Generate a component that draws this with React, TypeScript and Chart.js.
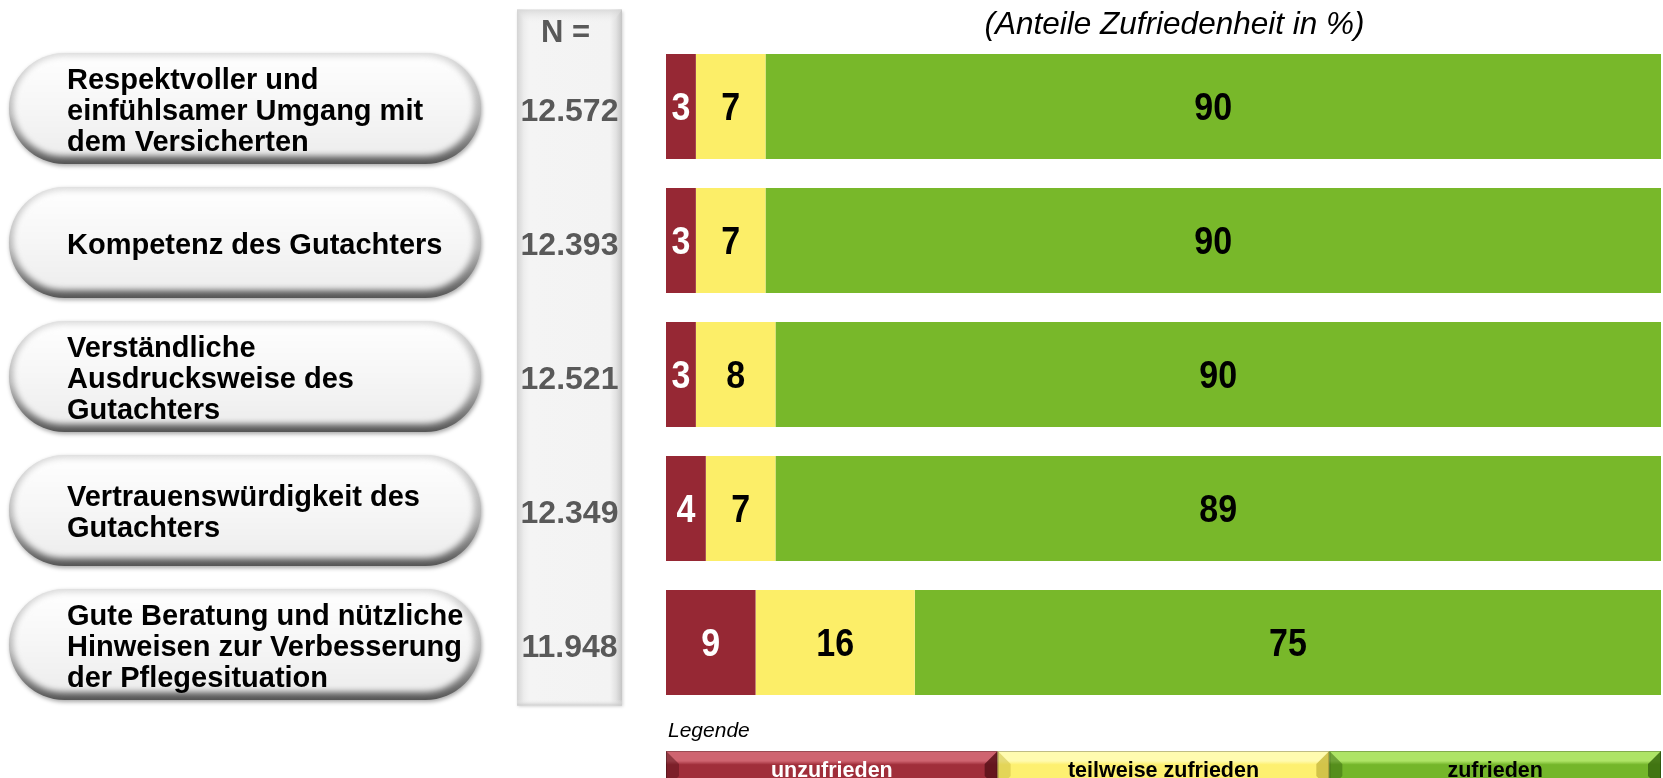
import React, { useEffect, useRef } from "react";
import { Chart, registerables } from "chart.js";

Chart.register(...registerables);

// ---------------- data ----------------
const categories: string[][] = [
  ["Respektvoller und", "einfühlsamer Umgang mit", "dem Versicherten"],
  ["Kompetenz des Gutachters"],
  ["Verständliche", "Ausdrucksweise des", "Gutachters"],
  ["Vertrauenswürdigkeit des", "Gutachters"],
  ["Gute Beratung und nützliche", "Hinweisen zur Verbesserung", "der Pflegesituation"],
];
const sampleSizes = ["12.572", "12.393", "12.521", "12.349", "11.948"];
const unzufrieden = [3, 3, 3, 4, 9];
const teilweiseZufrieden = [7, 7, 8, 7, 16];
const zufrieden = [90, 90, 90, 89, 75];
const seriesNames = ["unzufrieden", "teilweise zufrieden", "zufrieden"];
const nHeader = "N =";
const chartTitle = "(Anteile Zufriedenheit in %)";
const legendTitle = "Legende";
const xMin = 0;
const xMax = 100;

// ---------------- styles ----------------
const FONT = '"Liberation Sans", Arial, Helvetica, sans-serif';
const COLORS = ["#962834", "#FCEE68", "#78B82A"];
const LABEL_COLORS = ["#ffffff", "#000000", "#000000"];
const LEGEND_STYLES = [
  { hi: "#cf6470", main: "#a02e3a", lo: "#7c1f29", bevel: "#5e141c", text: "#ffffff" },
  { hi: "#fffbb0", main: "#fdf070", lo: "#e9db55", bevel: "#cdbf45", text: "#000000" },
  { hi: "#aee466", main: "#74b62a", lo: "#5c9a1c", bevel: "#3c6e10", text: "#000000" },
];

function pillPath(ctx: CanvasRenderingContext2D, x: number, y: number, w: number, h: number) {
  const r = h / 2;
  ctx.beginPath();
  ctx.moveTo(x + r, y);
  ctx.lineTo(x + w - r, y);
  ctx.arc(x + w - r, y + r, r, -Math.PI / 2, Math.PI / 2);
  ctx.lineTo(x + r, y + h);
  ctx.arc(x + r, y + r, r, Math.PI / 2, Math.PI * 1.5);
  ctx.closePath();
}

function drawPill(ctx: CanvasRenderingContext2D, x: number, y: number, w: number, h: number) {
  ctx.save();
  ctx.shadowColor = "rgba(0,0,0,0.35)";
  ctx.shadowBlur = 4;
  ctx.shadowOffsetX = 1;
  ctx.shadowOffsetY = 2;
  pillPath(ctx, x, y, w, h);
  const g = ctx.createLinearGradient(0, y, 0, y + h);
  g.addColorStop(0, "#dadada");
  g.addColorStop(0.55, "#b4b4b4");
  g.addColorStop(1, "#565656");
  ctx.fillStyle = g;
  ctx.fill();
  ctx.restore();

  ctx.save();
  pillPath(ctx, x, y, w, h);
  ctx.clip();
  ctx.filter = "blur(3px)";
  pillPath(ctx, x + 4, y + 3, w - 11, h - 11);
  const g2 = ctx.createLinearGradient(0, y, 0, y + h);
  g2.addColorStop(0, "#ffffff");
  g2.addColorStop(0.5, "#f6f6f6");
  g2.addColorStop(1, "#ececec");
  ctx.fillStyle = g2;
  ctx.fill();
  ctx.restore();
}

function drawNColumn(ctx: CanvasRenderingContext2D, x0: number, x1: number, y0: number, y1: number) {
  const w = x1 - x0;
  ctx.save();
  ctx.shadowColor = "rgba(0,0,0,0.18)";
  ctx.shadowBlur = 3;
  ctx.shadowOffsetX = 1;
  ctx.shadowOffsetY = 1;
  const g = ctx.createLinearGradient(x0, 0, x1, 0);
  g.addColorStop(0, "#d4d4d4");
  g.addColorStop(7 / w, "#ededed");
  g.addColorStop(12 / w, "#f4f4f4");
  g.addColorStop(1 - 12 / w, "#f3f3f3");
  g.addColorStop(1 - 6 / w, "#e2e2e2");
  g.addColorStop(1, "#c4c4c4");
  ctx.fillStyle = g;
  ctx.fillRect(x0, y0, w, y1 - y0);
  ctx.restore();
  ctx.save();
  const gt = ctx.createLinearGradient(0, y0, 0, y0 + 14);
  gt.addColorStop(0, "rgba(215,215,215,0.9)");
  gt.addColorStop(1, "rgba(243,243,243,0)");
  ctx.fillStyle = gt;
  ctx.beginPath();
  ctx.moveTo(x0, y0);
  ctx.lineTo(x1, y0);
  ctx.lineTo(x1 - 10, y0 + 14);
  ctx.lineTo(x0 + 10, y0 + 14);
  ctx.closePath();
  ctx.fill();
  const gb = ctx.createLinearGradient(0, y1 - 6, 0, y1);
  gb.addColorStop(0, "rgba(243,243,243,0)");
  gb.addColorStop(1, "rgba(200,200,200,0.9)");
  ctx.fillStyle = gb;
  ctx.fillRect(x0, y1 - 6, w, 6);
  ctx.restore();
}

function drawLegendBox(
  ctx: CanvasRenderingContext2D,
  x0: number,
  x1: number,
  y0: number,
  h: number,
  st: { hi: string; main: string; lo: string; bevel: string; text: string },
  label: string
) {
  const y1 = y0 + h;
  const bev = 13;
  ctx.save();
  const g = ctx.createLinearGradient(0, y0, 0, y1);
  g.addColorStop(0, st.hi);
  g.addColorStop(0.26, st.hi);
  g.addColorStop(0.36, st.main);
  g.addColorStop(0.75, st.main);
  g.addColorStop(1, st.lo);
  ctx.fillStyle = g;
  ctx.fillRect(x0, y0, x1 - x0, h);
  ctx.fillStyle = st.bevel;
  ctx.globalAlpha = 0.55;
  ctx.beginPath();
  ctx.moveTo(x0, y0);
  ctx.lineTo(x0 + bev, y0 + bev);
  ctx.lineTo(x0 + bev, y1 - bev);
  ctx.lineTo(x0, y1);
  ctx.closePath();
  ctx.fill();
  ctx.globalAlpha = 0.9;
  ctx.beginPath();
  ctx.moveTo(x1, y0);
  ctx.lineTo(x1 - bev, y0 + bev);
  ctx.lineTo(x1 - bev, y1 - bev);
  ctx.lineTo(x1, y1);
  ctx.closePath();
  ctx.fill();
  ctx.globalAlpha = 1;
  ctx.strokeStyle = "rgba(0,0,0,0.25)";
  ctx.lineWidth = 1;
  ctx.strokeRect(x0 + 0.5, y0 + 0.5, x1 - x0 - 1, h - 1);
  ctx.fillStyle = st.text;
  ctx.font = `bold 21.5px ${FONT}`;
  ctx.textAlign = "center";
  ctx.textBaseline = "alphabetic";
  ctx.fillText(label, (x0 + x1) / 2, y0 + 25.5);
  ctx.restore();
}

const decorPlugin = {
  id: "decor",
  beforeDraw(chart: any) {
    const ctx: CanvasRenderingContext2D = chart.ctx;
    const area = chart.chartArea;
    const yScale = chart.scales.y;
    const xScale = chart.scales.x;
    ctx.save();
    ctx.fillStyle = "#ffffff";
    ctx.fillRect(0, 0, chart.width, chart.height);

    // N column
    const nx0 = 517;
    const nx1 = 622;
    const ncx = (nx0 + nx1) / 2;
    drawNColumn(ctx, nx0, nx1, area.top - 30, area.bottom - 4);
    ctx.fillStyle = "#595959";
    ctx.textAlign = "center";
    ctx.textBaseline = "alphabetic";
    ctx.font = `bold 31px ${FONT}`;
    ctx.fillText(nHeader, ncx - 4, 42);
    ctx.font = `bold 32px ${FONT}`;
    sampleSizes.forEach((s, i) => {
      const cy = yScale.getPixelForValue(i);
      ctx.fillText(s, ncx, cy + 14.5);
    });

    // pills with category text
    categories.forEach((lines, i) => {
      const cy = yScale.getPixelForValue(i) + 3;
      const ph = 111;
      drawPill(ctx, 9, cy - ph / 2 - 1, 472, ph);
      ctx.fillStyle = "#000000";
      ctx.font = `bold 29px ${FONT}`;
      ctx.textAlign = "left";
      ctx.textBaseline = "alphabetic";
      const lh = 31;
      const first = cy - ((lines.length - 1) * lh) / 2 + 10;
      lines.forEach((ln, k) => {
        ctx.fillText(ln, 67, first + k * lh);
      });
    });

    // title
    ctx.fillStyle = "#000000";
    ctx.font = `italic 31.5px ${FONT}`;
    ctx.textAlign = "center";
    ctx.fillText(chartTitle, (area.left + area.right) / 2 + 11, 34);

    // legend
    ctx.font = `italic 21px ${FONT}`;
    ctx.textAlign = "left";
    ctx.fillText(legendTitle, area.left + 2, 737);
    const lx0 = xScale.getPixelForValue(xMin);
    const lx1 = xScale.getPixelForValue(xMax);
    const step = (lx1 - lx0) / seriesNames.length;
    seriesNames.forEach((name, i) => {
      drawLegendBox(ctx, lx0 + step * i, lx0 + step * (i + 1), 751, 38, LEGEND_STYLES[i], name);
    });
    ctx.restore();
  },
  afterDatasetsDraw(chart: any) {
    const ctx: CanvasRenderingContext2D = chart.ctx;
    const area = chart.chartArea;
    ctx.save();
    ctx.font = `bold 34px ${FONT}`;
    ctx.textAlign = "center";
    ctx.textBaseline = "alphabetic";
    const sy = 1.12;
    chart.data.datasets.forEach((ds: any, di: number) => {
      const meta = chart.getDatasetMeta(di);
      meta.data.forEach((el: any, i: number) => {
        const p = el.getProps(["x", "y", "base"], true);
        const x0 = Math.max(Math.min(p.x, p.base), area.left);
        const x1 = Math.min(Math.max(p.x, p.base), area.right);
        ctx.fillStyle = LABEL_COLORS[di];
        ctx.save();
        ctx.translate((x0 + x1) / 2, p.y + 13.5);
        ctx.scale(1, sy);
        ctx.fillText(String(ds.data[i]), 0, 0);
        ctx.restore();
      });
    });
    ctx.restore();
  },
};

export default function App() {
  const canvasRef = useRef<HTMLCanvasElement | null>(null);

  useEffect(() => {
    if (!canvasRef.current) return;
    const series = [unzufrieden, teilweiseZufrieden, zufrieden];
    const chart = new Chart(canvasRef.current, {
      type: "bar",
      data: {
        labels: categories,
        datasets: series.map((values, i) => ({
          label: seriesNames[i],
          data: values,
          backgroundColor: COLORS[i],
          borderWidth: 0,
          barPercentage: 0.784,
          categoryPercentage: 1,
          clip: 0,
        })),
      },
      options: {
        indexAxis: "y",
        animation: false,
        responsive: false,
        maintainAspectRatio: false,
        devicePixelRatio: 1,
        layout: { padding: { left: 666, right: 2, top: 39.5, bottom: 68.5 } },
        scales: {
          x: { stacked: true, min: xMin, max: xMax, display: false },
          y: { stacked: true, display: false },
        },
        plugins: {
          legend: { display: false },
          tooltip: { enabled: false },
          title: { display: false },
        },
      },
      plugins: [decorPlugin],
    } as any);
    return () => chart.destroy();
  }, []);

  return (
    <div style={{ position: "fixed", left: 0, top: 0, width: 1663, height: 778, background: "#fff" }}>
      <canvas ref={canvasRef} width={1663} height={778} style={{ display: "block" }} />
    </div>
  );
}
